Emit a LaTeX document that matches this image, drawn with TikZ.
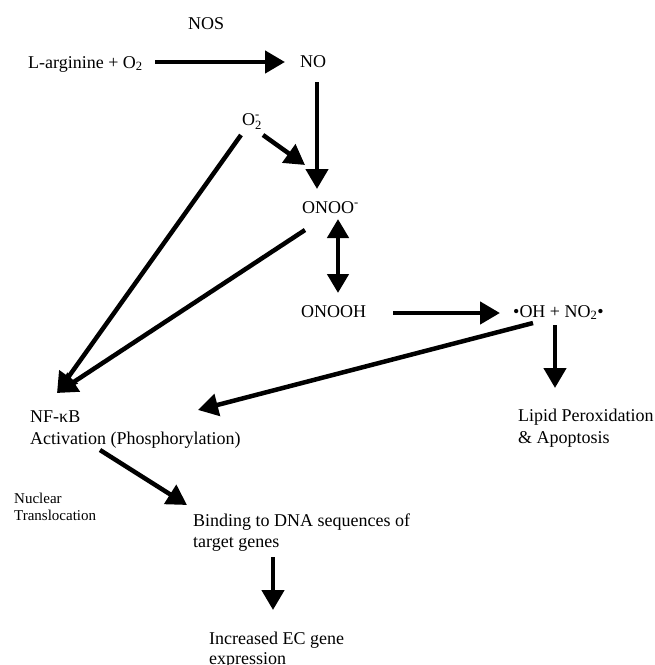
\documentclass[tikz,border=0pt]{standalone}
\usepackage{amsmath}
\usepackage{fontspec}
\setmainfont{Liberation Serif}
\usetikzlibrary{arrows.meta}
\begin{document}
\begin{tikzpicture}[x=1pt,y=-1pt,
 lbl/.style={anchor=base west, inner sep=0pt, font=\fontsize{18}{21}\selectfont},
 small/.style={anchor=base west, inner sep=0pt, font=\fontsize{15}{17}\selectfont},
 arr/.style={line width=4.5pt, -{Triangle[length=20pt,width=22pt]}},
 darr/.style={line width=4.5pt, {Triangle[length=19pt,width=21pt]}-{Triangle[length=19pt,width=21pt]}}]
\useasboundingbox (0,0) rectangle (655,665);

% texts
\node[lbl] (nos) at (188,29) {NOS};
\node[lbl] (arg) at (28,68) {L-arginine + O\textsubscript{2}};
\node[lbl] (no) at (300,67) {NO};
\node[lbl] (o2) at (242,125) {O$_{\text{2}}^{\text{-}}$};
\node[lbl] (onoo) at (302,213) {ONOO\textsuperscript{-}};
\node[lbl] (onooh) at (301,317) {ONOOH};
\node[lbl] (oh) at (513,317) {•OH + NO\textsubscript{2}•};
\node[lbl] (lipid) at (518,421) {Lipid Peroxidation};
\node[lbl] (lipid2) at (518,443) {\& Apoptosis};
\node[lbl] (nfkb) at (30,422) {NF-κB};
\node[lbl] (nfkb2) at (30,444) {Activation (Phosphorylation)};
\node[small] (nuc) at (14,503) {Nuclear};
\node[small] (nuc2) at (14,520) {Translocation};
\node[lbl] (bind) at (193,526) {Binding to DNA sequences of};
\node[lbl] (bind2) at (193,547) {target genes};
\node[lbl] (inc) at (209,644) {Increased EC gene};
\node[lbl] (inc2) at (209,664) {expression};

% connector end points
\coordinate (argE) at (155,62);
\coordinate (noW) at (285,62);
\coordinate (noS) at (317,82);
\coordinate (onooN) at (317,189);
\coordinate (o2SE) at (263,135);
\coordinate (onooNW) at (305,165);
\coordinate (o2SW) at (241,135);
\coordinate (nfkbN) at (57,393);
\coordinate (onooSW) at (305,230);
\coordinate (onooS) at (338,219);
\coordinate (onoohN) at (338,293);
\coordinate (onoohE) at (393,313);
\coordinate (ohW) at (500,313);
\coordinate (ohSW) at (533,323);
\coordinate (nfkbNE) at (198,410);
\coordinate (ohS) at (555,325);
\coordinate (lipidN) at (555,388);
\coordinate (nfkbS) at (100,450);
\coordinate (bindNW) at (187,505);
\coordinate (bindS) at (273,557);
\coordinate (incN) at (273,610);

\draw[arr] (argE) -- (noW);
\draw[arr] (noS) -- (onooN);
\draw[arr] (o2SE) -- (onooNW);
\draw[arr] (o2SW) -- (nfkbN);
\draw[arr] (onooSW) -- (nfkbN);
\draw[darr] (onooS) -- (onoohN);
\draw[arr] (onoohE) -- (ohW);
\draw[arr] (ohSW) -- (nfkbNE);
\draw[arr] (ohS) -- (lipidN);
\draw[arr] (nfkbS) -- (bindNW);
\draw[arr] (bindS) -- (incN);
\end{tikzpicture}
\end{document}
